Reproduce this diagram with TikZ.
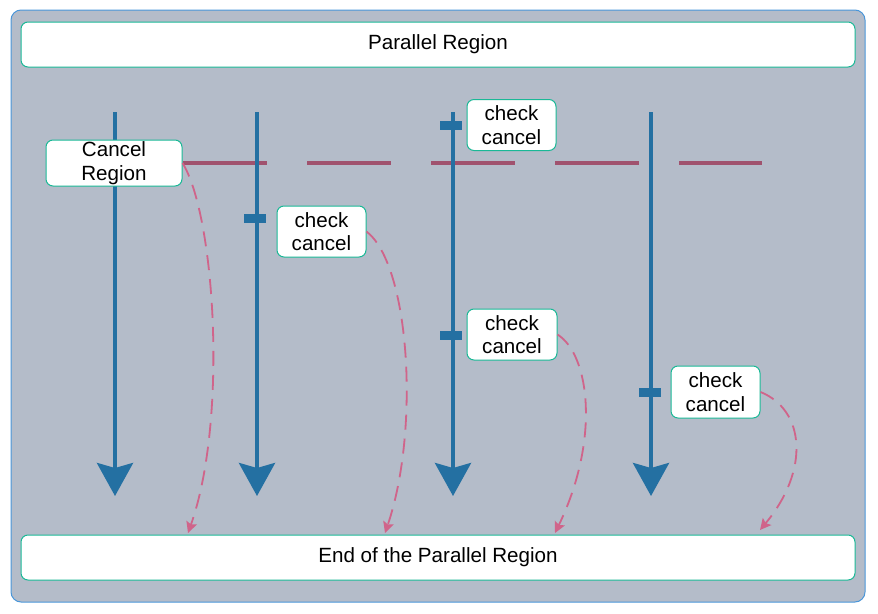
\documentclass[tikz,border=0pt]{standalone}
\usepackage{fontspec}
\setmainfont{Liberation Sans}
\usetikzlibrary{arrows.meta}
\definecolor{bgc}{RGB}{180,188,201}
\definecolor{outerc}{RGB}{74,150,217}
\definecolor{tealc}{RGB}{26,184,150}
\definecolor{threadc}{RGB}{36,112,162}
\definecolor{maroonc}{RGB}{160,82,110}
\definecolor{pinkc}{RGB}{208,100,138}
\begin{document}
\begin{tikzpicture}[x=1pt,y=-1pt,
  wbox/.style={draw=tealc, line width=1pt, fill=white, rounded corners=7pt, inner sep=0pt, align=center,
    font=\fontsize{20.6}{23.5}\selectfont},
  thread/.style={draw=threadc, line width=4pt, -{Stealth[width=36pt,length=33pt,inset=5pt]}},
  tick/.style={fill=threadc, minimum width=22pt, minimum height=9pt, inner sep=0pt},
  jump/.style={draw=pinkc, line width=1.8pt, dash pattern=on 15pt off 9pt, -{Stealth[width=11pt,length=11pt,inset=2pt]}},
  cancelline/.style={draw=maroonc, line width=4pt, dash pattern=on 84pt off 40pt}
]
\useasboundingbox (0,0) rectangle (878,613);
\node[draw=outerc, line width=1pt, fill=bgc, rounded corners=10pt, minimum width=854pt, minimum height=592pt, inner sep=0pt] (outer) at (438,306) {};
\node[wbox, minimum width=834pt, minimum height=45pt] (top) at (438,44.5) {Parallel Region};
\node[wbox, minimum width=834pt, minimum height=45pt] (bottom) at (438,557.5) {End of the Parallel Region};

% cancel line
\coordinate (cl0) at (183,163);
\coordinate (cl1) at (762,163);
\draw[cancelline] (cl0) -- (cl1);

% threads
\coordinate (t1a) at (115,112); \coordinate (t1b) at (115,496);
\coordinate (t2a) at (257,112); \coordinate (t2b) at (257,496);
\coordinate (t3a) at (453,112); \coordinate (t3b) at (453,496);
\coordinate (t4a) at (651,112); \coordinate (t4b) at (651,496);
\draw[thread] (t1a) -- (t1b);
\draw[thread] (t2a) -- (t2b);
\draw[thread] (t3a) -- (t3b);
\draw[thread] (t4a) -- (t4b);

% ticks
\node[tick] (k1) at (451,125) {};
\node[tick] (k2) at (255,218) {};
\node[tick] (k3) at (451,335) {};
\node[tick] (k4) at (650,392) {};

% boxes
\node[wbox, minimum width=136pt, minimum height=46pt] (cr) at (114,163) {Cancel\\Region};
\node[wbox, minimum width=89pt, minimum height=51pt] (c1) at (511.5,125) {check\\cancel};
\node[wbox, minimum width=89pt, minimum height=51pt] (c2) at (321.5,231.5) {check\\cancel};
\node[wbox, minimum width=90pt, minimum height=51pt] (c3) at (512,334.5) {check\\cancel};
\node[wbox, minimum width=89pt, minimum height=52pt] (c4) at (715.5,392) {check\\cancel};

% jumps
\coordinate (e1) at (188,533);
\coordinate (e2) at (385,533);
\coordinate (e3) at (555,533);
\coordinate (e4) at (760,530);
\draw[jump] (cr.east) .. controls (215,215) and (228,420) .. (e1);
\draw[jump] (c2.east) .. controls (410,265) and (420,430) .. (e2);
\draw[jump] (c3.east) .. controls (590,355) and (600,440) .. (e3);
\draw[jump] (c4.east) .. controls (805,410) and (810,470) .. (e4);
\end{tikzpicture}
\end{document}
